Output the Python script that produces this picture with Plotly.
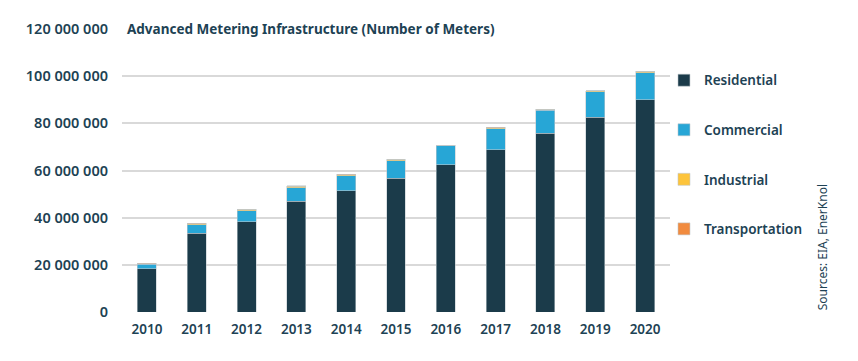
import plotly.graph_objects as go

years = ["2010", "2011", "2012", "2013", "2014", "2015", "2016", "2017", "2018", "2019", "2020"]
residential = [18.3e6, 33.5e6, 38.3e6, 46.9e6, 51.5e6, 56.8e6, 62.4e6, 68.7e6, 75.9e6, 82.6e6, 89.9e6]
commercial = [1.9e6, 3.5e6, 4.7e6, 5.8e6, 6.2e6, 7.4e6, 8.1e6, 9.0e6, 9.6e6, 10.7e6, 11.6e6]
industrial = [0.35e6, 0.5e6, 0.5e6, 0.7e6, 0.6e6, 0.5e6, 0.15e6, 0.5e6, 0.5e6, 0.45e6, 0.55e6]
transportation = [0.15e6, 0.05e6, 0.05e6, 0.2e6, 0.1e6, 0.05e6, 0.02e6, 0.05e6, 0.05e6, 0.02e6, 0.02e6]

tickvals = [0, 20e6, 40e6, 60e6, 80e6, 100e6, 120e6]
ticktext = ["0", "20 000 000", "40 000 000", "60 000 000", "80 000 000", "100 000 000", "120 000 000"]

series = [
    ("Residential", residential, "#1b3b4a"),
    ("Commercial", commercial, "#27a6d6"),
    ("Industrial", industrial, "#fdc43b"),
    ("Transportation", transportation, "#f18b3f"),
]

text_color = "#1d4254"
FONT = "Noto Sans"

fig = go.Figure()
for name, vals, color in series:
    fig.add_trace(go.Bar(
        x=years, y=vals, name=name, legendgroup=name,
        marker=dict(color=color, line=dict(color="rgba(190,200,205,0.7)", width=0.8)),
    ))

# page body has an 8px default margin, so the figure is offset by 8px
fig.update_layout(
    barmode="stack",
    bargap=0.62,
    width=858, height=361,
    margin=dict(l=114, r=196, t=21, b=57, autoexpand=False),
    plot_bgcolor="white", paper_bgcolor="white",
    font=dict(family=FONT, color=text_color),
    showlegend=True,
    legend=dict(
        x=0.989, xanchor="left", y=0.873, yanchor="top",
        font=dict(size=13.5, family=FONT, color=text_color, weight=600),
        tracegroupgap=29, traceorder="grouped",
        bgcolor="rgba(0,0,0,0)",
    ),
    xaxis=dict(
        showgrid=False, showline=False, zeroline=False, automargin=False,
        tickfont=dict(size=13.5, family=FONT, color=text_color, weight=600),
        ticklabelstandoff=7,
    ),
    yaxis=dict(
        range=[0, 120e6], tickvals=tickvals, ticktext=ticktext, automargin=False,
        showgrid=True, gridcolor="#d9d9d9", gridwidth=1.6,
        zeroline=False, showline=False,
        tickfont=dict(size=14.5, family=FONT, color=text_color, weight=600),
        ticklabelstandoff=13,
    ),
    annotations=[
        dict(
            text="Advanced Metering Infrastructure (Number of Meters)",
            xref="paper", yref="paper", x=0, y=1.0, xanchor="left", yanchor="middle",
            xshift=3, showarrow=False, bgcolor="white",
            font=dict(size=13.5, family=FONT, color=text_color, weight=700),
        ),
        dict(
            text="Sources: EIA, EnerKnol",
            xref="paper", yref="paper", x=1.278, y=0, xanchor="center", yanchor="bottom",
            textangle=-90, showarrow=False,
            font=dict(size=12, family=FONT, color=text_color),
        ),
    ],
)

fig.write_html("out.html")
